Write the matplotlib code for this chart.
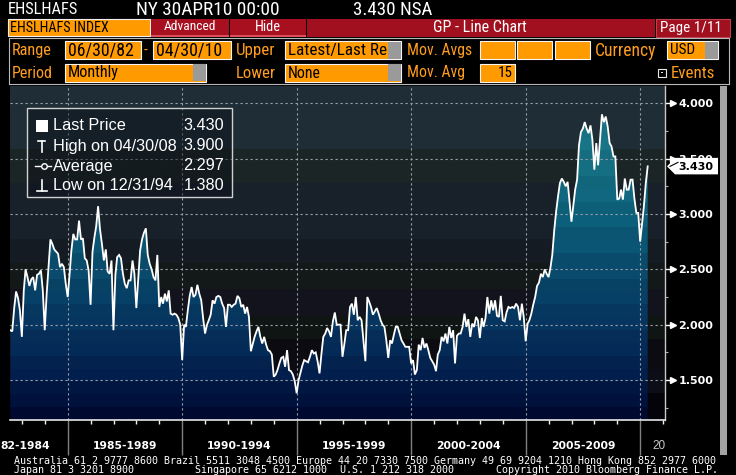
import matplotlib
matplotlib.use('Agg')
import matplotlib.pyplot as plt
import matplotlib.dates as mdates
import matplotlib.ticker as mticker
from matplotlib.patches import Rectangle, Polygon
from matplotlib.transforms import blended_transform_factory
from matplotlib import font_manager
import numpy as np
import pandas as pd

# ---------------- data ----------------
series_start = '1982-06-30'
index_values = [
    1.95, 1.94, 2.15, 2.30, 2.24, 2.13, 1.89, 2.31, 2.50, 2.43,
    2.35, 2.41, 2.43, 2.31, 2.45, 2.46, 2.49, 2.31, 1.95, 2.28,
    2.52, 2.77, 2.73, 2.68, 2.66, 2.64, 2.52, 2.55, 2.52, 2.37,
    2.25, 2.46, 2.67, 2.82, 2.77, 2.77, 2.94, 2.77, 2.78, 2.60,
    2.58, 2.49, 2.18, 2.66, 2.78, 2.89, 3.07, 2.86, 2.73, 2.58,
    2.68, 2.48, 2.46, 2.58, 1.95, 2.45, 2.61, 2.63, 2.60, 2.46,
    2.37, 2.33, 2.40, 2.40, 2.58, 2.46, 2.15, 2.42, 2.67, 2.77,
    2.83, 2.87, 2.63, 2.55, 2.50, 2.43, 2.40, 2.63, 2.16, 2.25,
    2.19, 2.28, 2.21, 2.31, 2.10, 2.09, 2.10, 2.09, 2.06, 2.00,
    1.68, 2.00, 1.98, 2.13, 2.26, 2.34, 2.25, 2.27, 2.36, 2.28,
    2.22, 2.06, 1.92, 2.00, 2.04, 2.09, 2.22, 2.19, 2.25, 2.26,
    2.25, 2.19, 2.15, 1.98, 2.18, 2.18, 2.16, 2.18, 2.19, 2.26,
    2.24, 2.16, 2.18, 2.10, 2.16, 2.07, 1.76, 1.83, 1.89, 1.94,
    1.98, 1.89, 1.83, 1.89, 1.82, 1.77, 1.76, 1.73, 1.53, 1.55,
    1.59, 1.65, 1.70, 1.71, 1.62, 1.77, 1.59, 1.58, 1.55, 1.49,
    1.38, 1.50, 1.56, 1.63, 1.68, 1.67, 1.66, 1.71, 1.77, 1.74,
    1.75, 1.67, 1.56, 1.74, 1.89, 1.92, 1.97, 1.94, 1.89, 2.03,
    2.11, 2.00, 2.00, 2.00, 1.71, 1.83, 1.95, 1.95, 2.16, 2.19,
    2.09, 2.25, 2.04, 2.07, 2.04, 1.86, 1.67, 2.25, 2.21, 2.16,
    2.09, 2.12, 2.15, 2.10, 2.04, 2.00, 1.98, 1.86, 1.70, 1.86,
    1.83, 1.91, 1.98, 1.98, 1.92, 1.86, 1.83, 1.80, 1.80, 1.80,
    1.65, 1.68, 1.55, 1.59, 1.82, 1.77, 1.88, 1.79, 1.83, 1.77,
    1.70, 1.67, 1.64, 1.58, 1.73, 1.77, 1.89, 1.85, 1.92, 1.83,
    1.98, 1.88, 1.95, 1.65, 1.90, 1.92, 1.92, 1.98, 2.10, 1.98,
    2.05, 1.89, 2.01, 1.98, 2.07, 2.04, 1.88, 2.06, 1.98, 2.06,
    2.25, 2.10, 2.22, 2.13, 2.22, 2.08, 2.07, 2.26, 2.04, 2.03,
    2.11, 2.16, 2.15, 2.16, 2.15, 2.19, 2.16, 2.04, 2.19, 2.07,
    1.85, 2.01, 2.04, 2.10, 2.18, 2.25, 2.35, 2.38, 2.46, 2.43,
    2.50, 2.46, 2.43, 2.52, 2.63, 2.85, 3.02, 3.16, 3.28, 3.32,
    3.29, 3.25, 3.29, 3.11, 2.93, 3.08, 3.22, 3.31, 3.62, 3.74,
    3.77, 3.83, 3.77, 3.73, 3.80, 3.67, 3.40, 3.64, 3.44, 3.67,
    3.90, 3.83, 3.88, 3.79, 3.64, 3.61, 3.52, 3.52, 3.13, 3.14,
    3.22, 3.13, 3.32, 3.22, 3.22, 3.31, 3.31, 3.14, 3.01, 3.01,
    2.75, 2.92, 3.07, 3.28, 3.43,
]
grid_years = [1985, 1990, 1995, 2000, 2005, 2010]
period_labels = ['82-1984', '1985-1989', '1990-1994', '1995-1999',
                 '2000-2004', '2005-2009', '20']
y_ticks = [1.5, 2.0, 2.5, 3.0, 3.5, 4.0]
legend_labels = ['Last Price', 'High on 04/30/08', 'Average', 'Low on 12/31/94']
legend_values = ['3.430', '3.900', '2.297', '1.380']
last_price = 3.430
last_price_text = '3.430'

# ---------------- fonts ----------------
_avail = {f.name for f in font_manager.fontManager.ttflist}
def pick(names):
    for n in names:
        if n in _avail:
            return n
    return 'DejaVu Sans'
NARROW = pick(['Liberation Sans Narrow', 'Roboto Condensed', 'Liberation Sans'])
SANS = pick(['Liberation Sans', 'DejaVu Sans'])

W, H = 736, 475
fig = plt.figure(figsize=(W / 100, H / 100), dpi=100, facecolor='black')

# ---------------- main chart ----------------
PL, PR, PT, PB = 10, 665, 86, 420
ax = fig.add_axes([PL / W, (H - PB) / H, (PR - PL) / W, (PB - PT) / H])
ax.set_facecolor('black')

dates = pd.date_range(series_start, periods=len(index_values), freq='ME')
vals = np.array(index_values)
x_lo, x_hi = pd.Timestamp('1982-06-25'), pd.Timestamp('2011-01-31')
y_lo, y_hi = 1.139, 4.156
xn_lo, xn_hi = mdates.date2num(x_lo), mdates.date2num(x_hi)

# background bands
band_edges = [4.156, 3.587, 3.28, 2.774, 2.557, 2.32, 2.079, 1.871, 1.60, 1.383, 1.139]
band_colors = ['#1f2d36', '#1c2526', '#18202a', '#151b23', '#131919',
               '#13131d', '#0f1513', '#0b0b11', '#0c0d17', '#030309']
for i, c in enumerate(band_colors):
    ax.axhspan(band_edges[i + 1], band_edges[i], color=c, lw=0, zorder=0)

# gradient fill under line
stops_v = [1.139, 1.5, 2.0, 2.5, 3.0, 3.5, 4.156]
stops_c = np.array([(0, 8, 46), (2, 28, 74), (6, 52, 94), (9, 74, 108),
                    (13, 96, 122), (22, 112, 130), (30, 124, 140)]) / 255.0
nb = 26
centers = y_lo + (np.arange(nb) + 0.5) * (y_hi - y_lo) / nb
img = np.stack([np.interp(centers, stops_v, stops_c[:, k]) for k in range(3)], axis=1)
img = img * (1 + 0.05 * ((np.arange(nb) % 2) - 0.5))[:, None]
img = np.clip(img, 0, 1)[:, None, :]
im = ax.imshow(img, extent=[xn_lo, xn_hi, y_lo, y_hi], origin='lower',
               aspect='auto', interpolation='nearest', zorder=1)
poly = ax.fill_between(dates, vals, y_lo, facecolor='none', edgecolor='none')
im.set_clip_path(poly.get_paths()[0], transform=ax.transData)

# grid
for yv in y_ticks:
    ax.axhline(yv, color='#9aa0a8', lw=0.8, ls=(0, (2, 2.5)), zorder=2)
for yr in grid_years:
    ax.axvline(pd.Timestamp(f'{yr}-01-01'), color='#9aa0a8', lw=0.8,
               ls=(0, (2, 2.5)), zorder=2)

ax.plot(dates, vals, color='white', lw=1.3, zorder=3, solid_joinstyle='miter')

ax.set_xlim(x_lo, x_hi)
ax.set_ylim(y_lo, y_hi)

for s in ['left', 'top']:
    ax.spines[s].set_visible(False)
ax.spines['bottom'].set_color('#e6e6e6')
ax.spines['bottom'].set_linewidth(1.2)
ax.spines['right'].set_color('#c8c8c8')
ax.spines['right'].set_linewidth(1.0)

ax.xaxis.set_major_locator(mdates.YearLocator(5))
ax.xaxis.set_minor_locator(mdates.YearLocator(1))
ax.xaxis.set_major_formatter(mticker.NullFormatter())
ax.tick_params(axis='x', which='major', length=25.5, width=1.0, color='#808080', direction='out')
ax.tick_params(axis='x', which='minor', length=2.6, width=1.0, color='#f0f0f0', direction='out')

ax.yaxis.set_ticks_position('right')
ax.set_yticks(y_ticks, labels=[f'{v:.3f}' for v in y_ticks])
ax.yaxis.set_minor_locator(mticker.MultipleLocator(0.25))
ax.tick_params(axis='y', which='major', length=5.8, width=1.0, color='white',
               labelcolor='white', labelsize=8, pad=3.8)
ax.tick_params(axis='y', which='minor', length=2.2, width=0.8, color='#b0b0b0')
for lbl in ax.get_yticklabels():
    lbl.set_fontweight('bold')
    lbl.set_fontfamily('DejaVu Sans')
btrans = blended_transform_factory(ax.transAxes, ax.transData)
ax.plot([1 + 7.5 / (PR - PL)] * len(y_ticks), y_ticks, ls='none', marker='>',
        ms=4.5, color='white', mec='white', transform=btrans, clip_on=False, zorder=6)

# ---------------- overlay (pixel coordinates) ----------------
hx = fig.add_axes([0, 0, 1, 1], zorder=5)
hx.set_xlim(0, W)
hx.set_ylim(H, 0)
hx.axis('off')
hx.patch.set_alpha(0)

fig.canvas.draw()
R = fig.canvas.get_renderer()

def ftext(x, y, s, width=None, size=10, ha='left', va='center', family=NARROW, **kw):
    t = hx.text(x, y, s, fontsize=size, ha=ha, va=va, family=family, **kw)
    if width:
        w = t.get_window_extent(R).width
        if w > 0:
            t.set_fontsize(size * width / w)
    return t

def box(x0, x1, y0, y1, fc, ec='none', lw=0.8, z=1):
    hx.add_patch(Rectangle((x0, y0), x1 - x0, y1 - y0, facecolor=fc,
                           edgecolor=ec, lw=lw, zorder=z))

def data_px(d):
    return ax.transData.transform((mdates.date2num(pd.Timestamp(d)), y_lo))[0]

# period labels under the axis (positioned from the date scale)
lab_fs = None
for k, lab in enumerate(period_labels[1:-1]):
    y0 = grid_years[k]
    cx = (data_px(f'{y0}-01-01') + data_px(f'{y0 + 5}-01-01')) / 2
    t = ftext(cx, 446, lab, width=65 if lab_fs is None else None,
              size=lab_fs or 8, ha='center', family='DejaVu Sans',
              color='white', fontweight='bold')
    lab_fs = t.get_fontsize()
ftext(0.5, 446, period_labels[0], size=lab_fs, ha='left', family='DejaVu Sans',
      color='white', fontweight='bold')
ftext(data_px('2010-01-01') + 12, 446, period_labels[-1], size=8.5, ha='left',
      family=SANS, color='#c8c8c8')

ORANGE = '#ff9d1e'
BOXF = '#ff9a00'
RED = '#a8101f'

# row 1
ftext(8, 10, 'EHSLHAFS', width=70, size=12, color='white')
ftext(136, 10, 'NY 30APR10 00:00', width=142, size=12, color='white')
ftext(353, 10, '3.430 NSA', width=79, size=12, color='white')

# row 2
box(8, 150, 19, 36, BOXF, ec='#f0f0f0', lw=0.8)
ftext(10.5, 27.8, 'EHSLHAFS INDEX', width=98, size=10, color='black')
box(151, 229, 19, 36, RED)
box(151, 229, 34.5, 36.5, '#e0505a')
ftext(190, 27, 'Advanced', width=52, size=10, ha='center', color='white')
box(230, 306, 19, 36, RED)
box(230, 306, 34.5, 36.5, '#e0505a')
ftext(268, 27, 'Hide', width=26, size=10, ha='center', color='white')
box(307, 655, 19, 37, '#a0101e')
ftext(480, 28, 'GP - Line Chart', width=94, size=10, ha='center', color='white')
box(656, 730, 19, 37, '#a0101e', ec='#c04050', lw=0.8)
ftext(691, 28, 'Page 1/11', width=61, size=10, ha='center', color='white')

# rows 3-4 frame
hx.plot([8.5, 8.5, 729, 729], [84, 37.5, 37.5, 84], color='#b8b8b8', lw=0.8)
hx.plot([8.5, 729], [84, 84], color='#b8b8b8', lw=0.8)

def ibox(x0, x1, y0, y1, txt=None, tw=None, cap=None, align='left'):
    box(x0, x1, y0, y1, BOXF, ec='#f4f4f4', lw=0.8)
    if cap:
        box(cap, x1, y0 + 0.5, y1 - 0.5, '#9a9a9a')
    if txt:
        if align == 'left':
            ftext(x0 + 3, (y0 + y1) / 2 + 0.5, txt, width=tw, size=11, color='black')
        else:
            ftext(x1 - 2, (y0 + y1) / 2 + 0.5, txt, width=tw, size=11, color='black', ha='right')

r3a, r3b = 41, 59
r4a, r4b = 63.5, 81.5
ftext(12, 50.5, 'Range', width=40, size=11, color=ORANGE)
ibox(65, 141, r3a, r3b, '06/30/82', 66)
ftext(144, 50.5, '-', size=11, color=ORANGE)
ibox(153, 231, r3a, r3b, '04/30/10', 66)
ftext(236, 50.5, 'Upper', width=39, size=11, color=ORANGE)
ibox(285, 401, r3a, r3b, 'Latest/Last Re', 98, cap=388)
ftext(407, 50.5, 'Mov. Avgs', width=65, size=11, color=ORANGE)
ibox(480, 515, r3a, r3b)
ibox(517, 552, r3a, r3b)
ibox(555, 590, r3a, r3b)
ftext(595, 50.5, 'Currency', width=61, size=11, color=ORANGE)
ibox(667, 718, r3a, r3b, 'USD', 25, cap=705)

ftext(12, 73, 'Period', width=41, size=11, color=ORANGE)
ibox(65, 206, r4a, r4b, 'Monthly', 51, cap=193)
ftext(236, 73, 'Lower', width=40, size=11, color=ORANGE)
ibox(285, 401, r4a, r4b, 'None', 33, cap=388)
ftext(407, 73, 'Mov. Avg', width=58, size=11, color=ORANGE)
ibox(480, 515, r4a, r4b, '15', 15, align='right')
box(658, 666, 68.5, 76.5, 'none', ec='#e8e8e8', lw=0.8)
box(661.3, 662.7, 71.8, 73.2, '#e8e8e8')
ftext(671, 73, 'Events', width=44, size=11, color=ORANGE)

# legend box
box(27, 232, 108, 197, (0.04, 0.06, 0.09, 0.45), ec='#d0d0d0', lw=1.0, z=3)
rows_y = [126, 146, 166, 185.5]
ref = ftext(53, rows_y[1], legend_labels[1], width=124, size=11, family=SANS,
            color='white', zorder=4)
leg_fs = ref.get_fontsize()
for lab, v, yy in zip(legend_labels, legend_values, rows_y):
    if lab != legend_labels[1]:
        hx.text(53, yy, lab, fontsize=leg_fs, ha='left', va='center', family=SANS,
                color='white', zorder=4)
    hx.text(224, yy, v, fontsize=leg_fs, ha='right', va='center', family=SANS,
            color='white', zorder=4)
box(36, 48, 120, 132, 'white', z=4)
hx.plot([38, 45], [141, 141], color='white', lw=1.2, zorder=4)
hx.plot([41.5, 41.5], [141, 152], color='white', lw=1.2, zorder=4)
hx.plot([35, 51], [166, 166], color='white', lw=1.0, zorder=4)
hx.plot([43.5], [166], marker='o', ms=4, mfc='#1a2028', mec='white', mew=1.0, zorder=5)
hx.plot([42, 42], [180, 191], color='white', lw=1.2, zorder=4)
hx.plot([37, 47], [191, 191], color='white', lw=1.2, zorder=4)

# last price tag
py = H - ax.transData.transform((xn_lo, last_price))[1]
hx.add_patch(Polygon([(667, py), (675, py - 8.5), (718, py - 8.5), (718, py + 8), (675, py + 8)],
                     closed=True, facecolor='white', edgecolor='none', zorder=6))
hx.plot([670, 678], [py, py - 4], color='black', lw=0.8, zorder=7)
hx.text(678, py + 0.5, last_price_text, fontsize=8, fontweight='bold', color='black',
        family='DejaVu Sans', ha='left', va='center', zorder=7)

# scrollbar
box(720, 727, 86, 455, '#a2a4a4')

# footer
MONO = 'DejaVu Sans Mono'
f1 = ftext(14, 460.5, 'Australia 61 2 9777 8600 Brazil 5511 3048 4500 Europe 44 20 7330 7500 '
           'Germany 49 69 9204 1210 Hong Kong 852 2977 6000', width=704, size=7,
           family=MONO, color='white')
FS = f1.get_fontsize()
line2 = [(14, 'Japan 81 3 3201 8900'), (195, 'Singapore 65 6212 1000'),
         (340, 'U.S. 1 212 318 2000')]
for xx, s in line2:
    hx.text(xx, 470, s, fontsize=FS, family=MONO, color='white', ha='left', va='center')
hx.text(718, 470, 'Copyright 2010 Bloomberg Finance L.P.', fontsize=FS, family=MONO,
        color='white', ha='right', va='center')

fig.savefig('out.png', dpi=100, facecolor='black')
